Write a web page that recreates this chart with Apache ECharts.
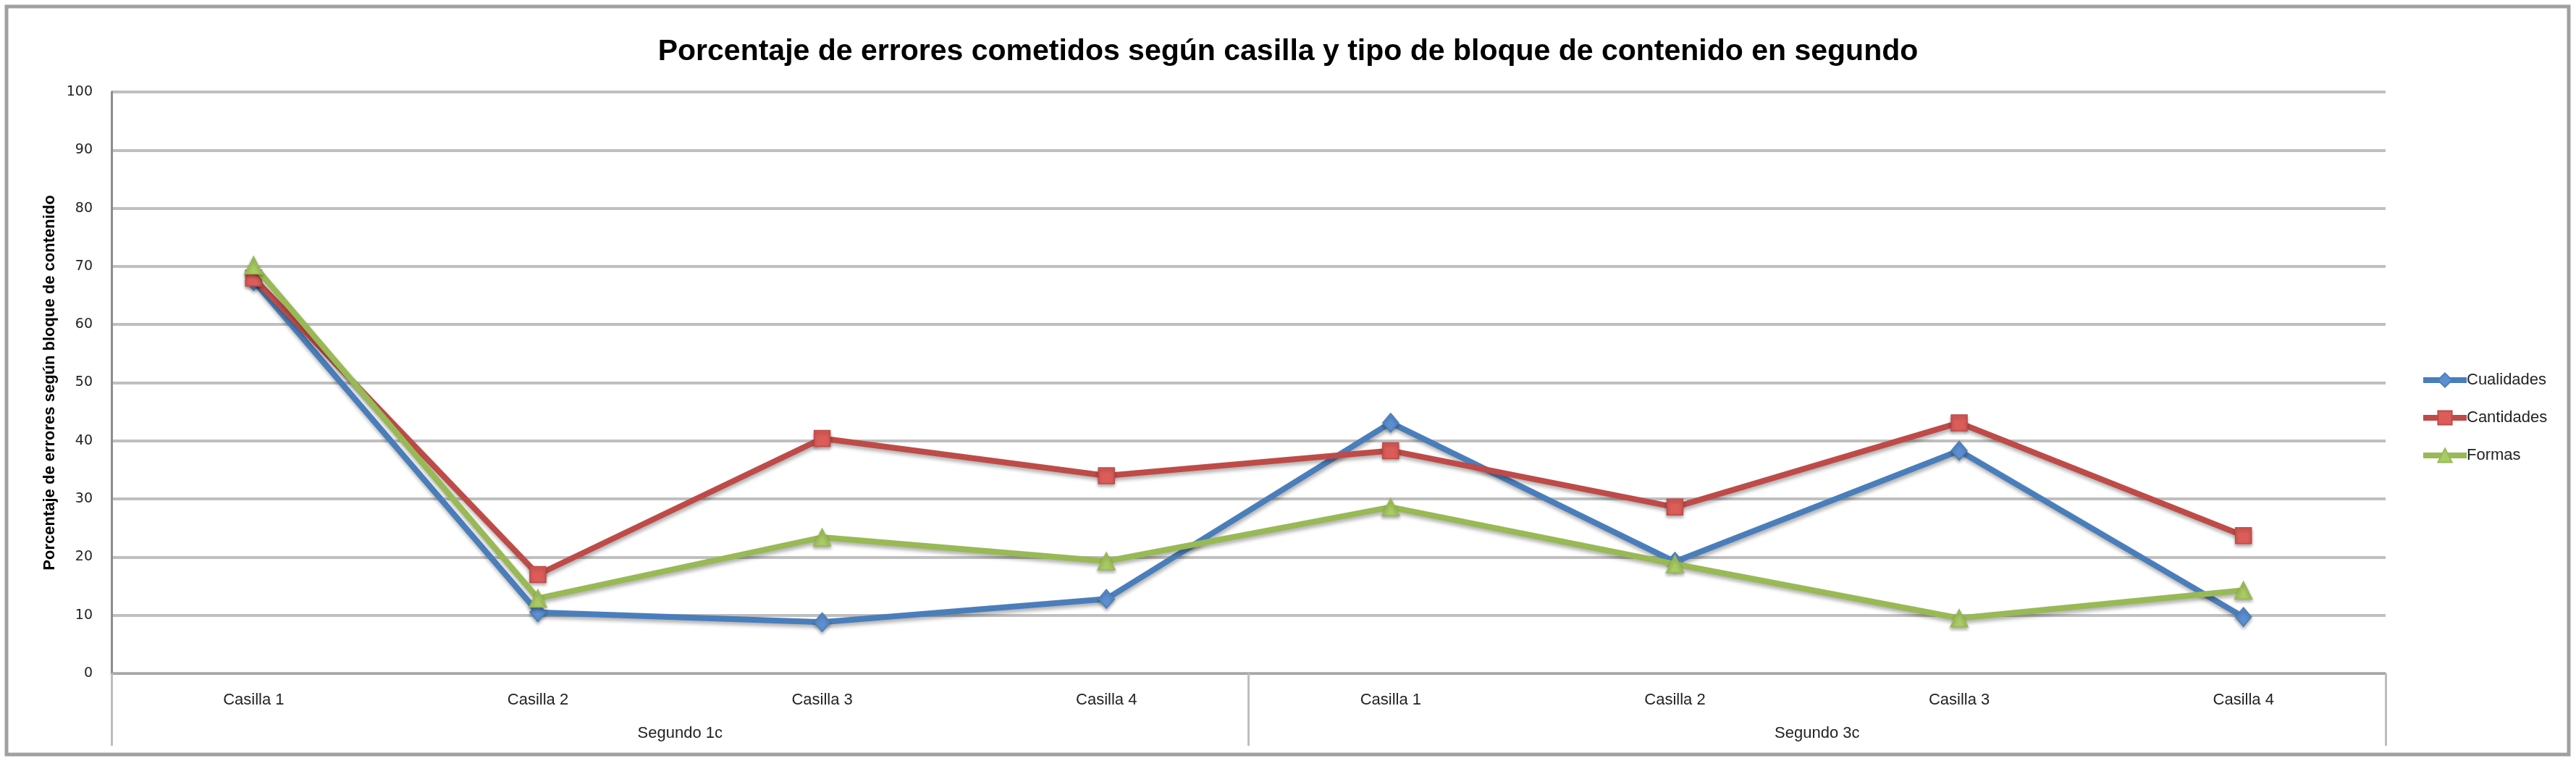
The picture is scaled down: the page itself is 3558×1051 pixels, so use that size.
<!DOCTYPE html>
<html>
<head>
<meta charset="utf-8">
<script src="https://cdn.jsdelivr.net/npm/echarts@6/dist/echarts.min.js"></script>
<style>
html,body{margin:0;padding:0;background:#fff;}
#chart{width:3558px;height:1051px;}
</style>
</head>
<body>
<div id="chart"></div>
<script>
const titleText = 'Porcentaje de errores cometidos según casilla y tipo de bloque de contenido en segundo';
const yAxisName = 'Porcentaje de errores según bloque de contenido';
const categories = ['Casilla 1','Casilla 2','Casilla 3','Casilla 4','Casilla 1','Casilla 2','Casilla 3','Casilla 4'];
const groups = ['Segundo 1c','Segundo 3c'];
const seriesNames = ['Cualidades','Cantidades','Formas'];
const cualidades = [67.5, 10.5, 8.8, 12.8, 43.1, 19.2, 38.3, 9.7];
const cantidades = [68.0, 17.0, 40.4, 34.0, 38.3, 28.6, 43.1, 23.7];
const formas = [70.2, 12.9, 23.4, 19.3, 28.6, 18.8, 9.5, 14.3];
const yMin = 0, yMax = 100, yStep = 10;

const lineColors = ['#4A7EBB', '#BE4B48', '#98B954'];
const markerFills = ['#5B8FD0', '#DB5C58', '#A9CB63'];
const symbols = ['diamond', 'rect', 'triangle'];
const symbolSizes = [[22, 26], 22, 24];
const values = [cualidades, cantidades, formas];

const chart = echarts.init(document.getElementById('chart'), null, {renderer: 'canvas'});
const option = {
  backgroundColor: '#ffffff',
  animation: false,
  title: {
    text: titleText,
    left: 'center',
    top: 46,
    textStyle: {fontFamily: 'Liberation Sans', fontWeight: 'bold', fontSize: 41, color: '#000'}
  },
  graphic: [{
    type: 'rect',
    shape: {x: 9, y: 9, width: 3539, height: 1033},
    style: {fill: 'none', stroke: '#A0A0A0', lineWidth: 5},
    silent: true
  }],
  legend: {
    orient: 'vertical',
    left: 3338,
    top: 508,
    itemWidth: 60,
    itemHeight: 24,
    itemGap: 28,
    data: seriesNames,
    lineStyle: {width: 8},
    textStyle: {fontFamily: 'Liberation Sans', fontSize: 22, color: '#222', lineHeight: 24, padding: [0, 0, 0, -5]}
  },
  grid: {left: 154, right: 263, top: 127, bottom: 121, containLabel: false},
  xAxis: [{
    type: 'category',
    data: categories,
    position: 'bottom',
    boundaryGap: true,
    axisLine: {show: true, lineStyle: {color: '#A6A6A6', width: 3}},
    axisTick: {show: false},
    axisLabel: {margin: 26, fontFamily: 'Liberation Sans', fontSize: 22, color: '#222', interval: 0},
    splitLine: {show: false}
  }, {
    type: 'category',
    data: groups,
    position: 'bottom',
    boundaryGap: true,
    axisLine: {show: false},
    axisTick: {show: true, length: 100, lineStyle: {color: '#BDBDBD', width: 3}},
    axisLabel: {margin: 72, fontFamily: 'Liberation Sans', fontSize: 22, color: '#222', interval: 0},
    splitLine: {show: false}
  }],
  yAxis: {
    type: 'value',
    min: yMin,
    max: yMax,
    interval: yStep,
    name: yAxisName,
    nameLocation: 'middle',
    nameRotate: 90,
    nameGap: 74,
    nameTextStyle: {fontFamily: 'Liberation Sans', fontWeight: 'bold', fontSize: 22, color: '#000'},
    axisLine: {show: true, lineStyle: {color: '#8C8C8C', width: 3}},
    axisTick: {show: false},
    axisLabel: {margin: 26, fontFamily: 'DejaVu Sans', fontSize: 19, color: '#222'},
    splitLine: {show: true, lineStyle: {color: '#BFBFBF', width: 4}}
  },
  series: seriesNames.map((name, i) => ({
    name: name,
    type: 'line',
    xAxisIndex: 0,
    data: values[i],
    symbol: symbols[i],
    symbolSize: symbolSizes[i],
    showAllSymbol: true,
    lineStyle: {color: lineColors[i], width: 8, shadowColor: 'rgba(0,0,0,0.3)', shadowBlur: 5, shadowOffsetX: 1, shadowOffsetY: 4},
    itemStyle: {color: markerFills[i], borderColor: lineColors[i], borderWidth: 1.5, shadowColor: 'rgba(0,0,0,0.3)', shadowBlur: 4, shadowOffsetY: 3},
    emphasis: {disabled: true},
    z: 2 + i
  }))
};
chart.setOption(option);
</script>
</body>
</html>
